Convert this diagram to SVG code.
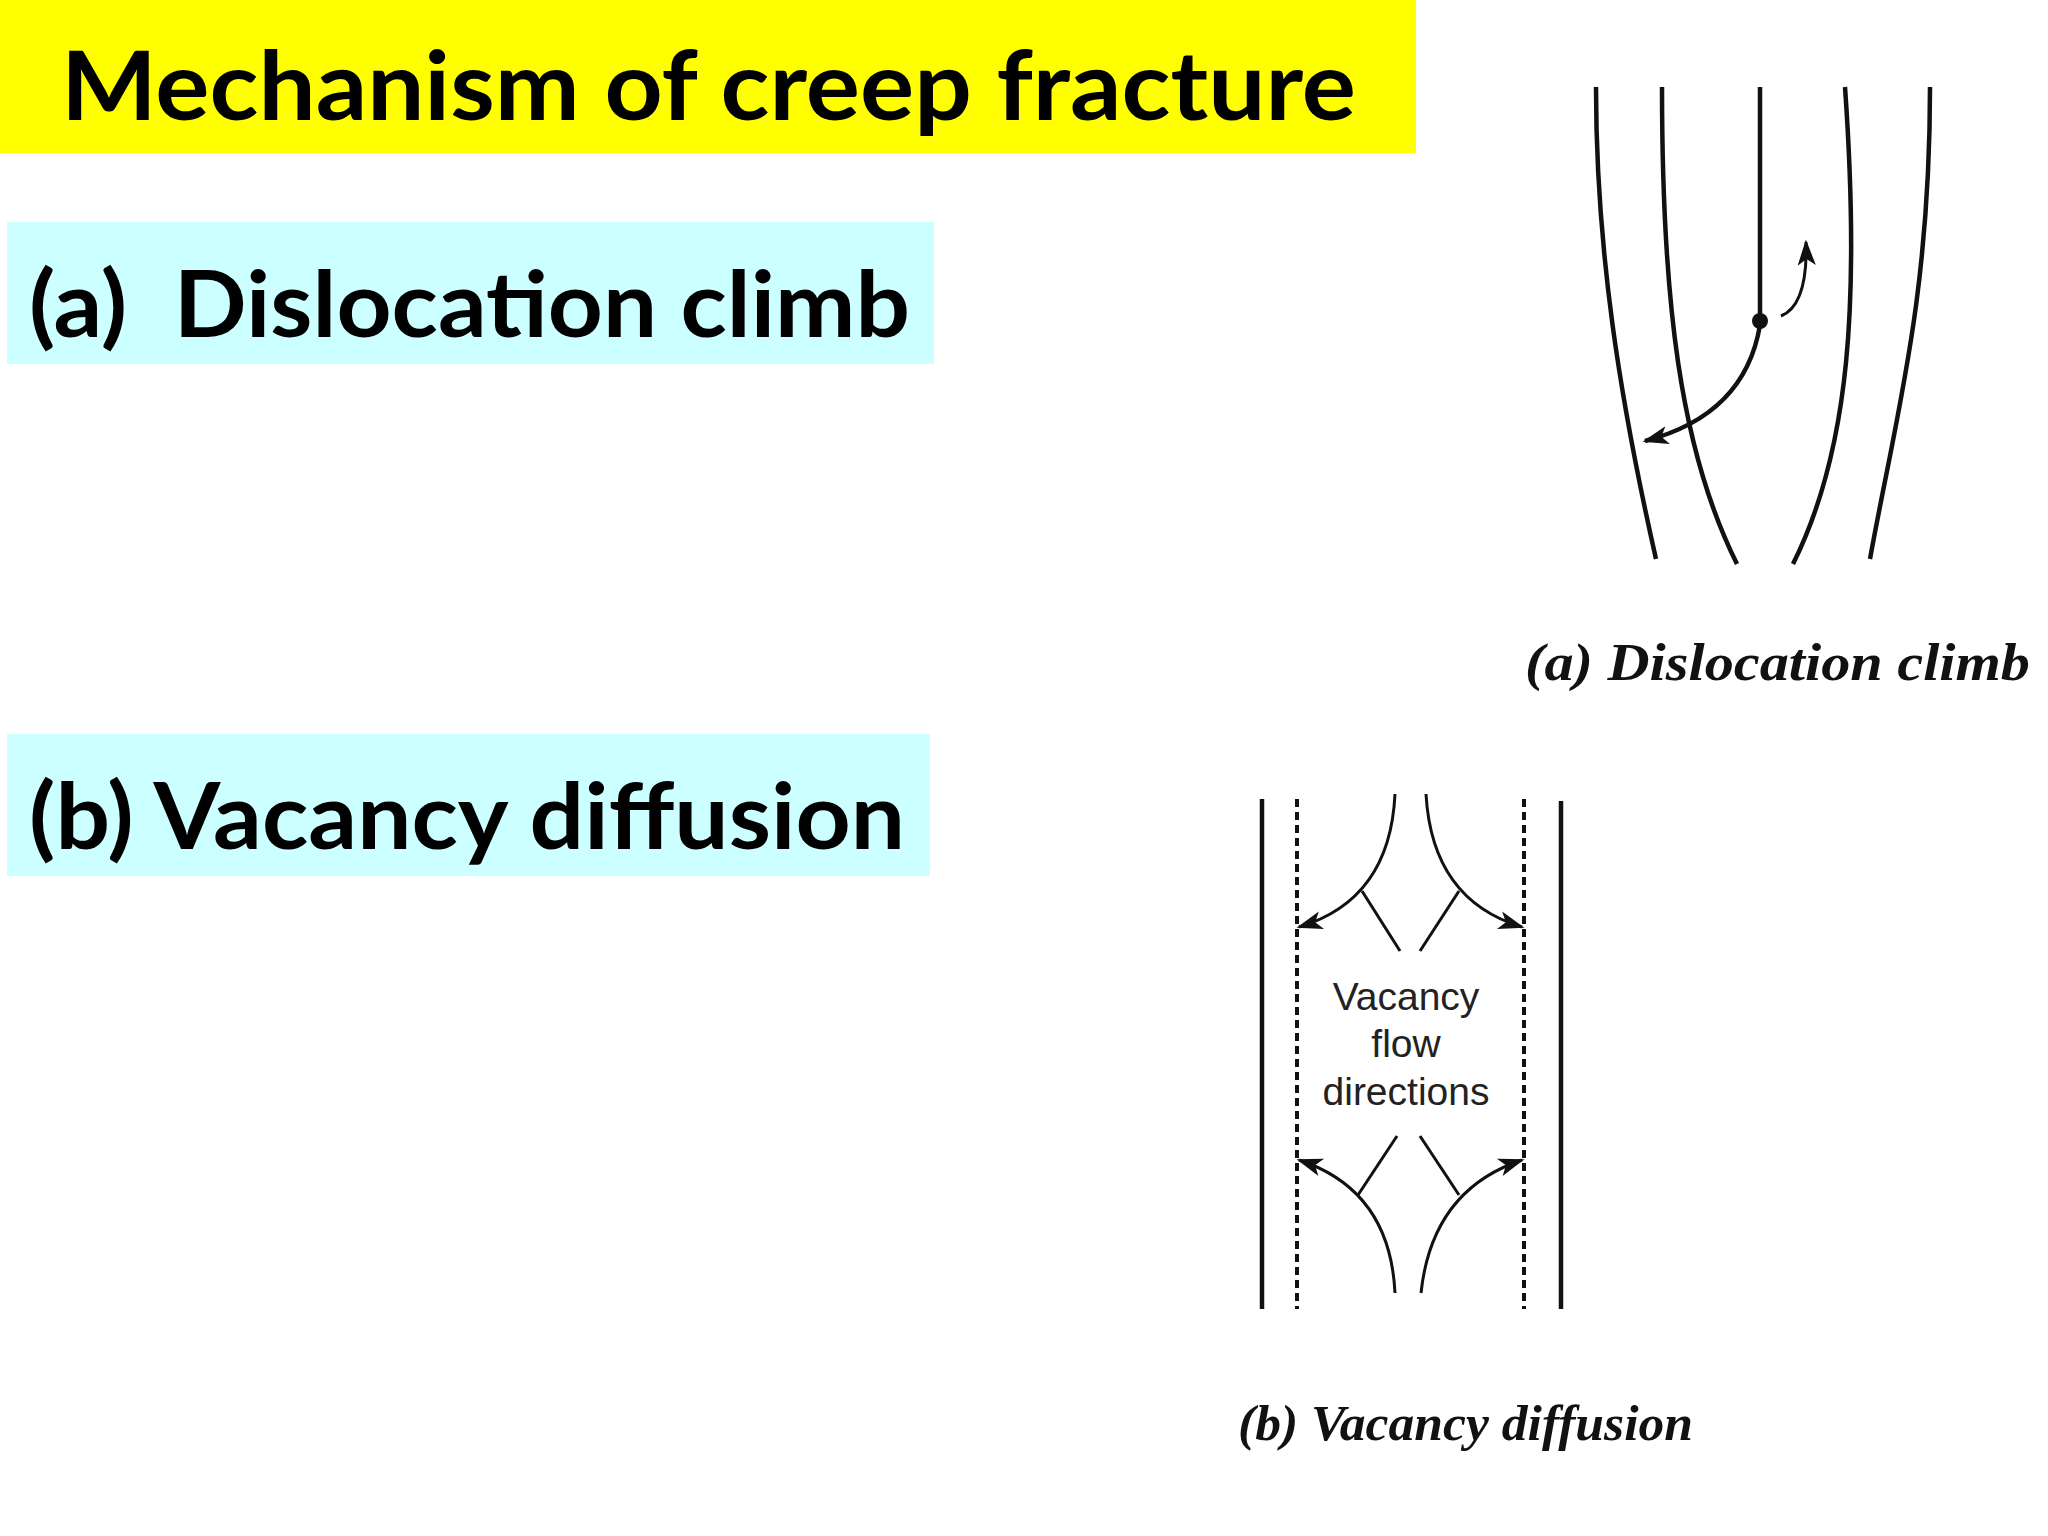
<svg xmlns="http://www.w3.org/2000/svg" width="2048" height="1536" viewBox="0 0 2048 1536">
<defs>
<style>
.h{font-family:Lato,"Liberation Sans",sans-serif;font-weight:bold;fill:#000}
.cap{font-family:"Liberation Serif",serif;font-weight:bold;font-style:italic;fill:#111}
.ln{fill:none;stroke:#111;stroke-width:4.5}
.th{fill:none;stroke:#111;stroke-width:3}
.ds{fill:none;stroke:#111;stroke-width:4}
.lbl{font-family:"Liberation Sans",sans-serif;font-size:39px;fill:#222;text-anchor:middle}
</style>
<marker id="ah2" viewBox="0 0 10 10" refX="9" refY="5" markerWidth="26" markerHeight="26" orient="auto" markerUnits="userSpaceOnUse">
<path d="M0,1.5 L10,5 L0,8.5 L2.5,5 Z" fill="#111"/>
</marker>
</defs>
<rect width="2048" height="1536" fill="#fff"/>
<g id="title">
<rect x="0" y="0" width="1416" height="153" fill="#FFFF00"/>
<text class="h" x="61" y="120" font-size="96" textLength="1295" lengthAdjust="spacingAndGlyphs">Mechanism of creep fracture</text>
</g>
<g id="label-a">
<rect x="7" y="222" width="927" height="142" fill="#CCFFFF"/>
<text class="h" x="29" y="337" font-size="92" textLength="881" lengthAdjust="spacingAndGlyphs" xml:space="preserve">(a)  Dislocation climb</text>
</g>
<g id="label-b">
<rect x="7" y="734" width="923" height="142" fill="#CCFFFF"/>
<text class="h" x="29" y="849" font-size="92" textLength="876" lengthAdjust="spacingAndGlyphs">(b) Vacancy diffusion</text>
</g>
<g id="fig-a">
<path class="ln" d="M1596,87 C1596,250 1620,400 1656,559"/>
<path class="ln" d="M1662,87 C1662,300 1680,450 1737,564"/>
<path class="ln" d="M1760,87 L1760,321"/>
<path class="ln" d="M1845,87 C1860,300 1850,450 1793,564"/>
<path class="ln" d="M1930,87 C1930,300 1895,420 1870,559"/>
<circle cx="1760" cy="321" r="8" fill="#111"/>
<text class="cap" x="1525" y="680" font-size="52" textLength="505" lengthAdjust="spacingAndGlyphs">(a) Dislocation climb</text>
</g>
<g id="fig-b">
<line class="ln" x1="1262" y1="799" x2="1262" y2="1309"/>
<line class="ln" x1="1561" y1="801" x2="1561" y2="1309"/>
<line class="ds" x1="1297" y1="799" x2="1297" y2="1309" stroke-dasharray="8,5"/>
<line class="ds" x1="1524" y1="799" x2="1524" y2="1309" stroke-dasharray="8,5"/>
<line class="th" x1="1362" y1="891" x2="1400" y2="951"/>
<line class="th" x1="1459" y1="891" x2="1420" y2="951"/>
<line class="th" x1="1397" y1="1136" x2="1358" y2="1195"/>
<line class="th" x1="1420" y1="1136" x2="1459" y2="1195"/>
<text class="lbl" x="1406" y="1010">Vacancy</text>
<text class="lbl" x="1406" y="1057">flow</text>
<text class="lbl" x="1406" y="1105">directions</text>
<text class="cap" x="1238" y="1440" font-size="50" textLength="455" lengthAdjust="spacingAndGlyphs">(b) Vacancy diffusion</text>
</g>
<g id="connectors">
<path class="ln" d="M1760,325 Q1745,415 1645,441" marker-end="url(#ah2)"/>
<path class="th" d="M1781,316 Q1808,305 1806,242" marker-end="url(#ah2)"/>
<path class="th" d="M1395,794 Q1390,900 1299,927" marker-end="url(#ah2)"/>
<path class="th" d="M1426,794 Q1432,900 1522,927" marker-end="url(#ah2)"/>
<path class="th" d="M1395,1293 Q1390,1190 1299,1160" marker-end="url(#ah2)"/>
<path class="th" d="M1421,1293 Q1432,1190 1522,1160" marker-end="url(#ah2)"/>
</g>
</svg>
